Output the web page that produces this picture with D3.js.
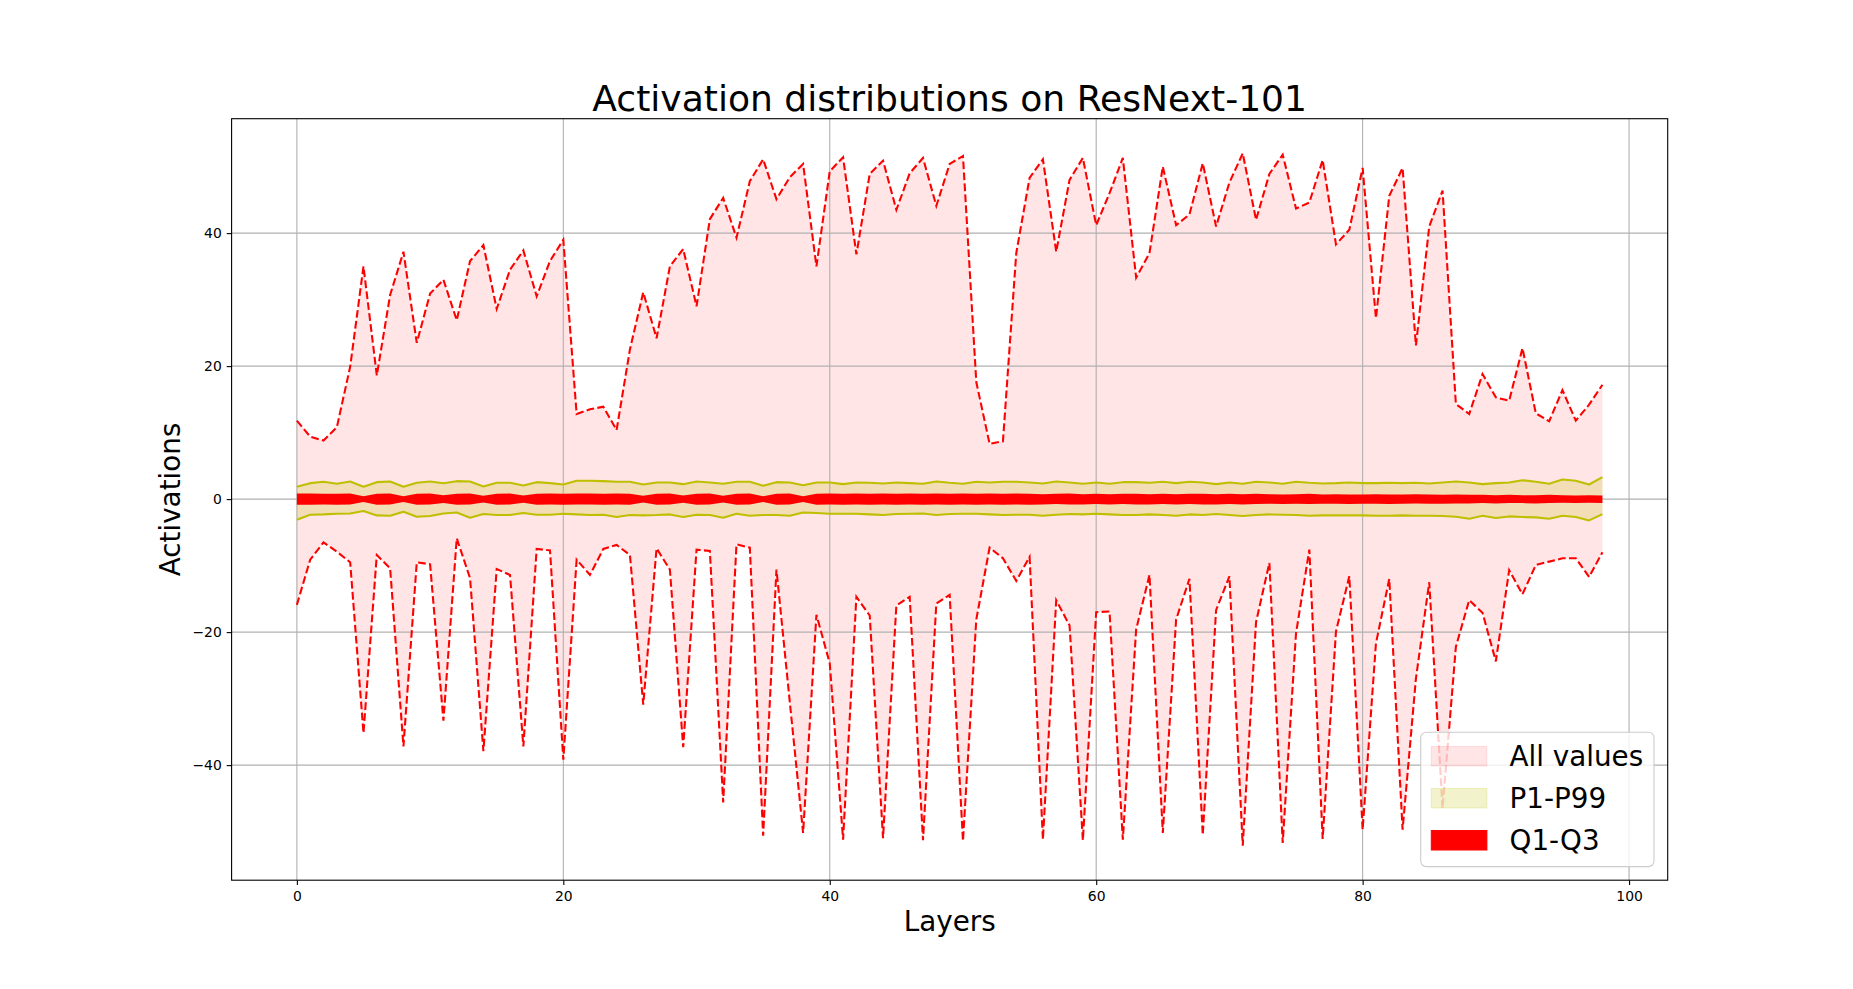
<!DOCTYPE html>
<html>
<head>
<meta charset="utf-8">
<script src="https://cdn.jsdelivr.net/npm/d3@7"></script>
<style>
  body { margin: 0; background: #fff; }
  text { font-family: "DejaVu Sans", sans-serif; }
</style>
</head>
<body>
<div id="chart"></div>
<script>
// per-layer statistics
const maxVals = [11.8, 9.4, 8.8, 10.8, 19.9, 35.0, 18.6, 30.7, 37.2, 23.5,
  30.9, 33.0, 26.9, 35.8, 38.2, 28.6, 34.5, 37.4, 30.5, 35.8,
  39.0, 12.8, 13.5, 13.9, 10.4, 22.5, 31.1, 24.2, 35.0, 37.6,
  29.0, 42.1, 45.3, 39.3, 47.8, 51.1, 45.1, 48.4, 50.4, 35.0,
  49.3, 51.4, 36.8, 48.9, 50.9, 43.5, 49.0, 51.3, 44.1, 50.4,
  51.6, 17.6, 8.3, 8.7, 37.0, 48.3, 51.1, 37.2, 48.0, 51.3,
  41.2, 46.0, 51.3, 33.3, 37.0, 50.0, 41.2, 42.8, 50.5, 41.0,
  47.6, 52.0, 42.0, 48.9, 51.8, 43.7, 44.6, 51.0, 38.3, 40.5,
  49.8, 27.2, 45.6, 49.8, 23.1, 41.0, 46.4, 14.3, 12.8, 18.8,
  15.3, 14.8, 22.7, 12.9, 11.7, 16.4, 11.8, 14.2, 17.2];

const minVals = [-15.9, -9.1, -6.5, -7.9, -9.5, -35.2, -8.4, -10.4, -37.2, -9.5,
  -9.8, -33.3, -5.9, -11.9, -37.9, -10.5, -11.4, -37.2, -7.5, -7.7,
  -39.2, -9.1, -11.4, -7.5, -6.9, -8.4, -30.9, -7.4, -10.6, -37.3,
  -7.6, -7.8, -45.6, -6.8, -7.3, -50.6, -10.6, -30.5, -50.2, -17.4,
  -24.7, -51.2, -14.7, -17.5, -51.0, -16.0, -14.7, -51.3, -15.7, -14.4,
  -51.4, -18.1, -7.3, -8.9, -12.3, -8.7, -51.2, -15.2, -19.0, -51.3,
  -17.0, -16.9, -51.2, -19.6, -11.4, -50.2, -18.1, -12.0, -50.5, -16.7,
  -11.6, -52.1, -18.5, -9.6, -51.7, -20.2, -7.6, -51.1, -19.9, -11.6,
  -49.7, -21.7, -12.0, -49.7, -27.0, -12.5, -46.5, -22.2, -15.2, -17.1,
  -24.4, -10.7, -14.3, -9.9, -9.4, -8.9, -8.9, -11.7, -8.0];

const p99Vals = [1.85, 2.4, 2.6, 2.3, 2.65, 1.85, 2.55, 2.65, 1.85, 2.45,
  2.65, 2.4, 2.7, 2.65, 1.9, 2.45, 2.45, 2.05, 2.55, 2.4,
  2.2, 2.75, 2.75, 2.7, 2.6, 2.6, 2.2, 2.5, 2.5, 2.25,
  2.65, 2.5, 2.3, 2.6, 2.6, 2.0, 2.55, 2.5, 2.1, 2.5,
  2.5, 2.25, 2.5, 2.45, 2.35, 2.5, 2.4, 2.3, 2.65, 2.45,
  2.3, 2.6, 2.5, 2.6, 2.6, 2.5, 2.35, 2.65, 2.5, 2.3,
  2.5, 2.3, 2.55, 2.55, 2.45, 2.6, 2.4, 2.6, 2.5, 2.25,
  2.5, 2.3, 2.6, 2.5, 2.3, 2.6, 2.45, 2.35, 2.4, 2.5,
  2.4, 2.4, 2.45, 2.4, 2.45, 2.35, 2.5, 2.65, 2.5, 2.25,
  2.4, 2.5, 2.85, 2.6, 2.3, 2.95, 2.75, 2.2, 3.3];

const p1Vals = [-3.1, -2.35, -2.3, -2.2, -2.15, -1.8, -2.45, -2.5, -1.9, -2.65,
  -2.55, -2.15, -2.0, -2.8, -2.25, -2.4, -2.4, -2.1, -2.35, -2.35,
  -2.2, -2.3, -2.4, -2.35, -2.7, -2.4, -2.45, -2.4, -2.3, -2.7,
  -2.35, -2.4, -2.8, -2.2, -2.5, -2.4, -2.4, -2.5, -2.0, -2.1,
  -2.2, -2.2, -2.2, -2.3, -2.4, -2.25, -2.2, -2.15, -2.4, -2.25,
  -2.2, -2.2, -2.3, -2.4, -2.35, -2.35, -2.5, -2.35, -2.25, -2.3,
  -2.2, -2.3, -2.4, -2.4, -2.3, -2.4, -2.5, -2.3, -2.4, -2.25,
  -2.4, -2.55, -2.4, -2.3, -2.35, -2.4, -2.5, -2.45, -2.45, -2.45,
  -2.45, -2.5, -2.5, -2.45, -2.5, -2.5, -2.55, -2.65, -2.95, -2.5,
  -2.85, -2.6, -2.7, -2.75, -2.95, -2.5, -2.7, -3.2, -2.25];

const q3Vals = [0.85, 0.85, 0.8, 0.8, 0.85, 0.45, 0.8, 0.85, 0.45, 0.8,
  0.85, 0.6, 0.8, 0.85, 0.5, 0.8, 0.85, 0.55, 0.8, 0.85,
  0.8, 0.85, 0.85, 0.8, 0.85, 0.8, 0.5, 0.8, 0.85, 0.55,
  0.8, 0.85, 0.5, 0.8, 0.85, 0.45, 0.8, 0.85, 0.45, 0.8,
  0.85, 0.8, 0.85, 0.8, 0.85, 0.8, 0.85, 0.8, 0.85, 0.8,
  0.85, 0.8, 0.85, 0.8, 0.85, 0.8, 0.75, 0.8, 0.85, 0.75,
  0.8, 0.75, 0.8, 0.8, 0.75, 0.8, 0.75, 0.8, 0.8, 0.75,
  0.8, 0.75, 0.8, 0.75, 0.7, 0.75, 0.8, 0.7, 0.75, 0.7,
  0.7, 0.75, 0.7, 0.7, 0.75, 0.7, 0.65, 0.7, 0.65, 0.65,
  0.6, 0.65, 0.6, 0.6, 0.65, 0.6, 0.55, 0.6, 0.55];

const q1Vals = [-0.85, -0.85, -0.8, -0.85, -0.8, -0.45, -0.85, -0.8, -0.45, -0.85,
  -0.8, -0.6, -0.85, -0.8, -0.5, -0.85, -0.8, -0.55, -0.85, -0.8,
  -0.85, -0.8, -0.8, -0.85, -0.8, -0.85, -0.5, -0.85, -0.8, -0.55,
  -0.85, -0.8, -0.5, -0.85, -0.8, -0.45, -0.85, -0.8, -0.45, -0.85,
  -0.8, -0.85, -0.8, -0.85, -0.8, -0.85, -0.8, -0.85, -0.8, -0.85,
  -0.8, -0.85, -0.8, -0.85, -0.8, -0.85, -0.8, -0.75, -0.8, -0.8,
  -0.75, -0.8, -0.75, -0.8, -0.8, -0.75, -0.8, -0.75, -0.8, -0.8,
  -0.75, -0.8, -0.75, -0.7, -0.75, -0.7, -0.75, -0.7, -0.7, -0.75,
  -0.7, -0.7, -0.75, -0.7, -0.65, -0.7, -0.7, -0.65, -0.65, -0.6,
  -0.65, -0.6, -0.6, -0.65, -0.6, -0.55, -0.6, -0.55, -0.6];

const xTicks = [0, 20, 40, 60, 80, 100];
const yTicks = [-40, -20, 0, 20, 40];
const legendLabels = ["All values", "P1-P99", "Q1-Q3"];

const W = 1853, H = 989;
const plotL = 231.6, plotR = 1667.7, plotT = 118.7, plotB = 880.2;

const layers = d3.range(maxVals.length);
const rows = layers.map(i => ({
  i, max: maxVals[i], min: minVals[i], p99: p99Vals[i], p1: p1Vals[i], q3: q3Vals[i], q1: q1Vals[i]
}));

// matplotlib-like 5% margins
const xPad = (layers.length - 1) * 0.05;
const yLo = d3.min(minVals), yHi = d3.max(maxVals);
const yPad = (yHi - yLo) * 0.05;

const x = d3.scaleLinear().domain([-xPad, layers.length - 1 + xPad]).range([plotL, plotR]);
const y = d3.scaleLinear().domain([yLo - yPad, yHi + yPad]).range([plotB, plotT]);

const svg = d3.select("#chart").append("svg")
  .attr("width", W).attr("height", H);

svg.append("rect").attr("width", W).attr("height", H).attr("fill", "#fff");

const area = (lo, hi) => d3.area().x(d => x(d.i)).y0(d => y(d[lo])).y1(d => y(d[hi]));
const line = key => d3.line().x(d => x(d.i)).y(d => y(d[key]));

// fills
svg.append("path").datum(rows).attr("d", area("min", "max"))
  .attr("fill", "red").attr("fill-opacity", 0.1);
svg.append("path").datum(rows).attr("d", area("p1", "p99"))
  .attr("fill", "#bfbf00").attr("fill-opacity", 0.2);

// grid
const grid = svg.append("g").attr("stroke", "#b0b0b0").attr("stroke-width", 1.1);
grid.selectAll(".gx").data(xTicks).enter().append("line")
  .attr("x1", d => x(d)).attr("x2", d => x(d)).attr("y1", plotT).attr("y2", plotB);
grid.selectAll(".gy").data(yTicks).enter().append("line")
  .attr("x1", plotL).attr("x2", plotR).attr("y1", d => y(d)).attr("y2", d => y(d));

// Q1-Q3 band
svg.append("path").datum(rows).attr("d", area("q1", "q3")).attr("fill", "red");

// lines
["max", "min"].forEach(k => {
  svg.append("path").datum(rows).attr("d", line(k))
    .attr("fill", "none").attr("stroke", "red").attr("stroke-width", 2.08)
    .attr("stroke-dasharray", "7.7,3.3");
});
["p99", "p1"].forEach(k => {
  svg.append("path").datum(rows).attr("d", line(k))
    .attr("fill", "none").attr("stroke", "#bfbf00").attr("stroke-width", 2.08)
    .attr("stroke-linejoin", "round");
});

// axes
const xAxis = d3.axisBottom(x).tickValues(xTicks).tickSize(4.9).tickPadding(4.9);
const yAxis = d3.axisLeft(y).tickValues(yTicks).tickSize(4.9).tickPadding(4.9)
  .tickFormat(d => d < 0 ? "\u2212" + Math.abs(d) : d);

const gx = svg.append("g").attr("transform", `translate(0,${plotB})`).call(xAxis);
const gy = svg.append("g").attr("transform", `translate(${plotL},0)`).call(yAxis);
[gx, gy].forEach(g => {
  g.select(".domain").remove();
  g.selectAll(".tick line").attr("stroke", "#000").attr("stroke-width", 1.1);
  g.selectAll(".tick text").attr("fill", "#000").style("font-size", "13.9px")
    .style("font-family", "DejaVu Sans");
});
gx.selectAll(".tick text").attr("dy", "0.76em");

// spines
svg.append("rect").attr("x", plotL).attr("y", plotT)
  .attr("width", plotR - plotL).attr("height", plotB - plotT)
  .attr("fill", "none").attr("stroke", "#000").attr("stroke-width", 1.1);

// titles
svg.append("text").attr("x", (plotL + plotR) / 2).attr("y", 111)
  .attr("text-anchor", "middle").style("font-size", "36.1px")
  .text("Activation distributions on ResNext-101");
svg.append("text").attr("x", (plotL + plotR) / 2).attr("y", 931)
  .attr("text-anchor", "middle").style("font-size", "27.8px").text("Layers");
svg.append("text").attr("transform", `translate(180,${(plotT + plotB) / 2}) rotate(-90)`)
  .attr("text-anchor", "middle").style("font-size", "27.8px").text("Activations");

// legend
const lg = svg.append("g");
lg.append("rect").attr("x", 1420.7).attr("y", 732.3).attr("width", 233.3).attr("height", 134.3)
  .attr("rx", 5.5).attr("fill", "#fff").attr("fill-opacity", 0.8)
  .attr("stroke", "#cccccc").attr("stroke-width", 1.1);
const swatch = [
  { fill: "red", op: 0.1 },
  { fill: "#bfbf00", op: 0.2 },
  { fill: "red", op: 1 }
];
legendLabels.forEach((lab, k) => {
  const cy = 756.2 + k * 42;
  lg.append("rect").attr("x", 1431.3).attr("y", cy - 9.7).attr("width", 55.6).attr("height", 19.5)
    .attr("fill", swatch[k].fill).attr("fill-opacity", swatch[k].op)
    .attr("stroke", swatch[k].fill).attr("stroke-opacity", swatch[k].op);
  lg.append("text").attr("x", 1509.5).attr("y", cy + 10)
    .style("font-size", "27.8px").text(lab);
});
</script>
</body>
</html>
